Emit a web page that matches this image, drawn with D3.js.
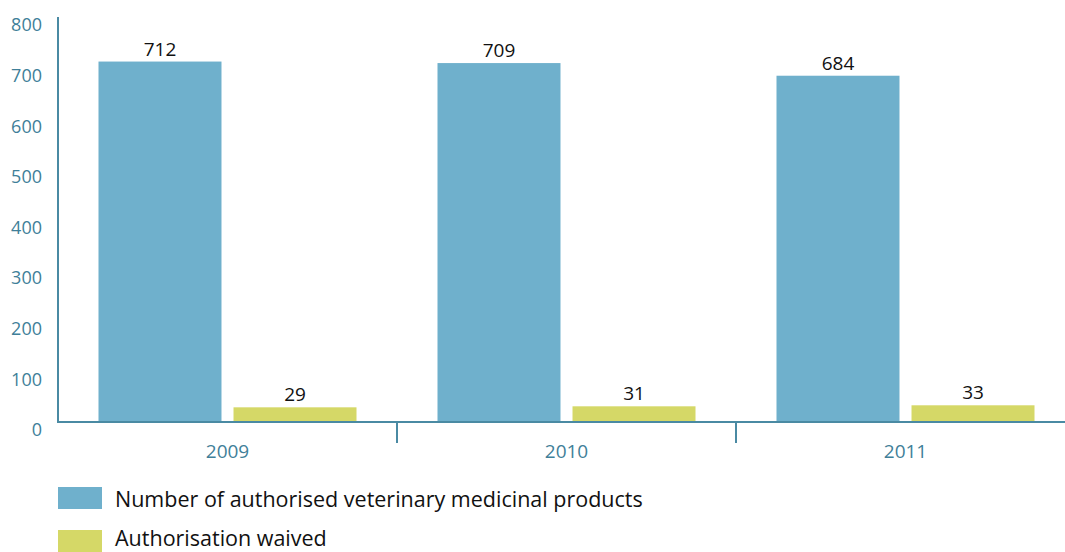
<!DOCTYPE html>
<html><head><meta charset="utf-8">
<script src="https://cdn.jsdelivr.net/npm/d3@7"></script>
<style>body{margin:0;background:#fff}svg{display:block}text{font-family:"Open Sans",sans-serif}</style>
</head><body><svg id="c" width="1065" height="552"></svg>
<script>
const categories = ["2009","2010","2011"];
const seriesNames = ["Number of authorised veterinary medicinal products","Authorisation waived"];
const authorised = [712,709,684];
const waived = [29,31,33];
const yTicks = [0,100,200,300,400,500,600,700,800];
const colors = ["#6fb0cc","#d5d867"];
const axisColor = "#4a8aa3";
const labelColor = "#3f7f99";

const svg = d3.select("#c");
const x0 = d3.scaleBand().domain(categories).range([58,1075]).padding(0);
const x1 = d3.scaleBand().domain([0,1]).range([0,x0.bandwidth()]).paddingInner(0.089).paddingOuter(0.3);
const y = d3.scaleLinear().domain([0,800]).range([422,17]);

// y labels
svg.append("g").selectAll("text").data(yTicks).join("text")
  .attr("x",42).attr("y",d=>y(d)+8).attr("dy","0.35em")
  .attr("text-anchor","end").attr("fill",labelColor).attr("font-size",18).text(d=>d);

const data = categories.map((c,i)=>({cat:c, vals:[authorised[i],waived[i]]}));
const g = svg.append("g");
data.forEach(d=>{
  d.vals.forEach((v,j)=>{
    g.append("rect").attr("x",x0(d.cat)+x1(j)).attr("width",x1.bandwidth())
      .attr("y",y(v)).attr("height",y(0)-y(v)).attr("fill",colors[j]);
    g.append("text").attr("x",x0(d.cat)+x1(j)+x1.bandwidth()/2).attr("y",y(v)-6)
      .attr("text-anchor","middle").attr("font-size",19).attr("fill","#111").text(v);
  });
});

// axes
svg.append("line").attr("x1",58).attr("x2",58).attr("y1",17).attr("y2",423).attr("stroke",axisColor).attr("stroke-width",2);
svg.append("line").attr("x1",57).attr("x2",1065).attr("y1",422).attr("y2",422).attr("stroke",axisColor).attr("stroke-width",2);
svg.append("g").selectAll("line").data(categories.slice(1)).join("line")
  .attr("x1",d=>x0(d)).attr("x2",d=>x0(d)).attr("y1",422).attr("y2",443)
  .attr("stroke",axisColor).attr("stroke-width",2);
svg.append("g").selectAll("text").data(categories).join("text")
  .attr("x",d=>x0(d)+x0.bandwidth()/2).attr("y",451).attr("dy","0.35em")
  .attr("text-anchor","middle").attr("fill",labelColor).attr("font-size",19).text(d=>d);

// legend
const lg = svg.append("g");
seriesNames.forEach((s,i)=>{
  lg.append("rect").attr("x",58).attr("y",487+i*43).attr("width",44).attr("height",22).attr("fill",colors[i]);
  lg.append("text").attr("x",115).attr("y",i===0?507:546).attr("font-size",21.5).attr("fill","#111").text(s);
});
</script></body></html>
